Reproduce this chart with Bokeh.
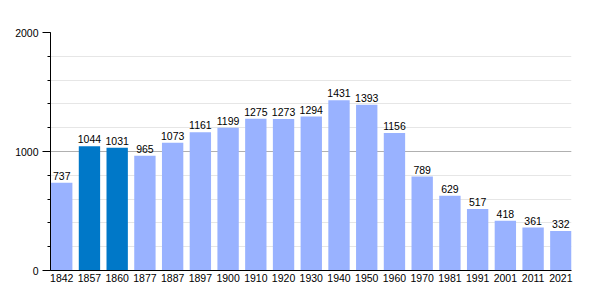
from bokeh.plotting import figure
from bokeh.models import ColumnDataSource, Range1d, FixedTicker
from bokeh.core.properties import value
from bokeh.embed import file_html
from bokeh.resources import INLINE

years = ["1842", "1857", "1860", "1877", "1887", "1897", "1900", "1910", "1920", "1930",
         "1940", "1950", "1960", "1970", "1981", "1991", "2001", "2011", "2021"]
population = [737, 1044, 1031, 965, 1073, 1161, 1199, 1275, 1273, 1294,
              1431, 1393, 1156, 789, 629, 517, 418, 361, 332]
highlight = ["1857", "1860"]

bar_w = 0.77
xs = list(range(len(years)))
colors = ["#0078C8" if y in highlight else "#99B2FF" for y in years]
labels = [str(v) for v in population]

src = ColumnDataSource(dict(x=xs, top=population, color=colors, label=labels))

p = figure(width=600, height=300,
           x_range=Range1d(-bar_w / 2 - 0.02, len(years) - 1 + bar_w / 2),
           y_range=Range1d(0, 2000), output_backend="svg", toolbar_location=None,
           min_border_left=50, min_border_right=29, min_border_top=32, min_border_bottom=30)
p.outline_line_color = None
p.background_fill_color = "white"

font = "Liberation Sans"
fs = "10.5px"

p.vbar(x="x", top="top", width=bar_w, color="color", source=src, line_color=None)
p.text(x="x", y="top", text="label", source=src, text_align="center", text_baseline="bottom",
       y_offset=-3, text_font=value(font), text_font_size=fs, text_color="black")

p.yaxis.ticker = FixedTicker(ticks=[0, 1000, 2000], minor_ticks=list(range(0, 2001, 200)))
p.yaxis.major_tick_out = 8
p.yaxis.major_tick_in = 0
p.yaxis.minor_tick_out = 3
p.yaxis.minor_tick_in = 0
p.yaxis.major_label_standoff = 4
p.yaxis.major_label_text_font = font
p.yaxis.major_label_text_font_size = fs
p.yaxis.major_label_text_color = "black"
p.yaxis.axis_line_color = "black"

p.xaxis.ticker = FixedTicker(ticks=xs, minor_ticks=[])
p.xaxis.major_label_overrides = {i: y for i, y in zip(xs, years)}
p.xaxis.major_tick_out = 0
p.xaxis.major_tick_in = 0
p.xaxis.minor_tick_out = 0
p.xaxis.major_label_standoff = 3
p.xaxis.major_label_text_font = font
p.xaxis.major_label_text_font_size = fs
p.xaxis.major_label_text_color = "black"
p.xaxis.axis_line_color = "black"

p.xgrid.grid_line_color = None
p.ygrid.grid_line_color = "#B0B0B0"
p.ygrid.minor_grid_line_color = "#E6E6E6"
p.ygrid.level = "underlay"

open("out.html", "w").write(file_html(p, INLINE))
